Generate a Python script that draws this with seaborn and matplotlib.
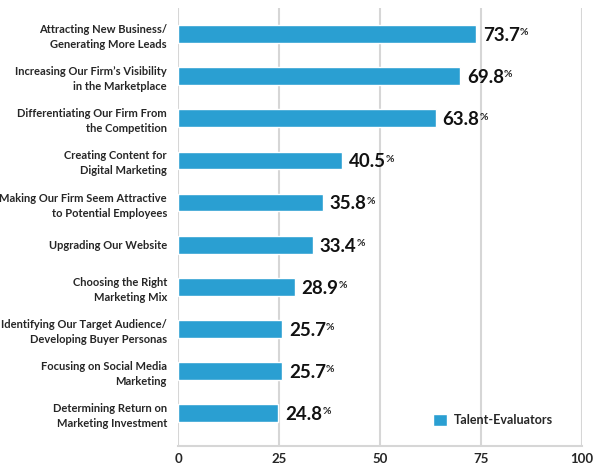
import pandas as pd
import matplotlib
matplotlib.use('Agg')
import matplotlib.pyplot as plt
import seaborn as sns

sns.set_style('white')
plt.rcParams['font.family'] = ['Lato', 'DejaVu Sans']

labels = [
    'Attracting New Business/\nGenerating More Leads',
    "Increasing Our Firm\u2019s Visibility\nin the Marketplace",
    'Differentiating Our Firm From\nthe Competition',
    'Creating Content for\nDigital Marketing',
    'Making Our Firm Seem Attractive\nto Potential Employees',
    'Upgrading Our Website',
    'Choosing the Right\nMarketing Mix',
    'Identifying Our Target Audience/\nDeveloping Buyer Personas',
    'Focusing on Social Media\nMarketing',
    'Determining Return on\nMarketing Investment',
]
values = [73.7, 69.8, 63.8, 40.5, 35.8, 33.4, 28.9, 25.7, 25.7, 24.8]
group = 'Talent-Evaluators'
xticks = [0, 25, 50, 75, 100]

bar_color = '#2a9fd2'
grid_color = '#d6d6d6'

df = pd.DataFrame({'Task': labels, 'Percent': values, 'Group': group})

fig = plt.figure(figsize=(6, 4.69), dpi=100)
ax = fig.add_axes([0.2967, 0.049, 0.6733, 0.934])

sns.barplot(data=df, x='Percent', y='Task', hue='Group', palette=[bar_color],
            width=0.42, dodge=False, saturation=1, ax=ax, zorder=3)

ax.set_xlim(0, 100)
ax.set_ylim(9.78, -0.62)
ax.set_xticks(xticks)
ax.set_xticklabels([str(t) for t in xticks], fontsize=9.5, fontweight='bold')
ax.tick_params(axis='y', labelsize=8, length=0, pad=8)
ax.tick_params(axis='x', length=0, pad=5)
for t in ax.get_yticklabels():
    t.set_fontweight('bold')
    t.set_linespacing(1.45)
ax.set_xlabel('')
ax.set_ylabel('')

for x in xticks:
    ax.axvline(x, color=grid_color, lw=1.5, zorder=1)
for s in ['top', 'right', 'left']:
    ax.spines[s].set_visible(False)
ax.spines['bottom'].set_color(grid_color)
ax.spines['bottom'].set_linewidth(1.5)

for i, v in enumerate(values):
    num = ax.annotate(f'{v:.1f}', xy=(v, i), xytext=(5, -1), textcoords='offset points',
                      ha='left', va='center', fontsize=13.5, fontweight='bold', color='#111111')
    ax.annotate('%', xy=(1, 1), xycoords=num, xytext=(0, -1), textcoords='offset points',
                ha='left', va='top', fontsize=7.5, fontweight='bold', color='#222222')

leg = ax.legend(loc='lower right', bbox_to_anchor=(0.955, 0.02), frameon=False,
                handlelength=1.1, handleheight=1.1, handletextpad=0.5,
                prop={'weight': 'bold', 'size': 9})

fig.savefig('out.png', dpi=100)
